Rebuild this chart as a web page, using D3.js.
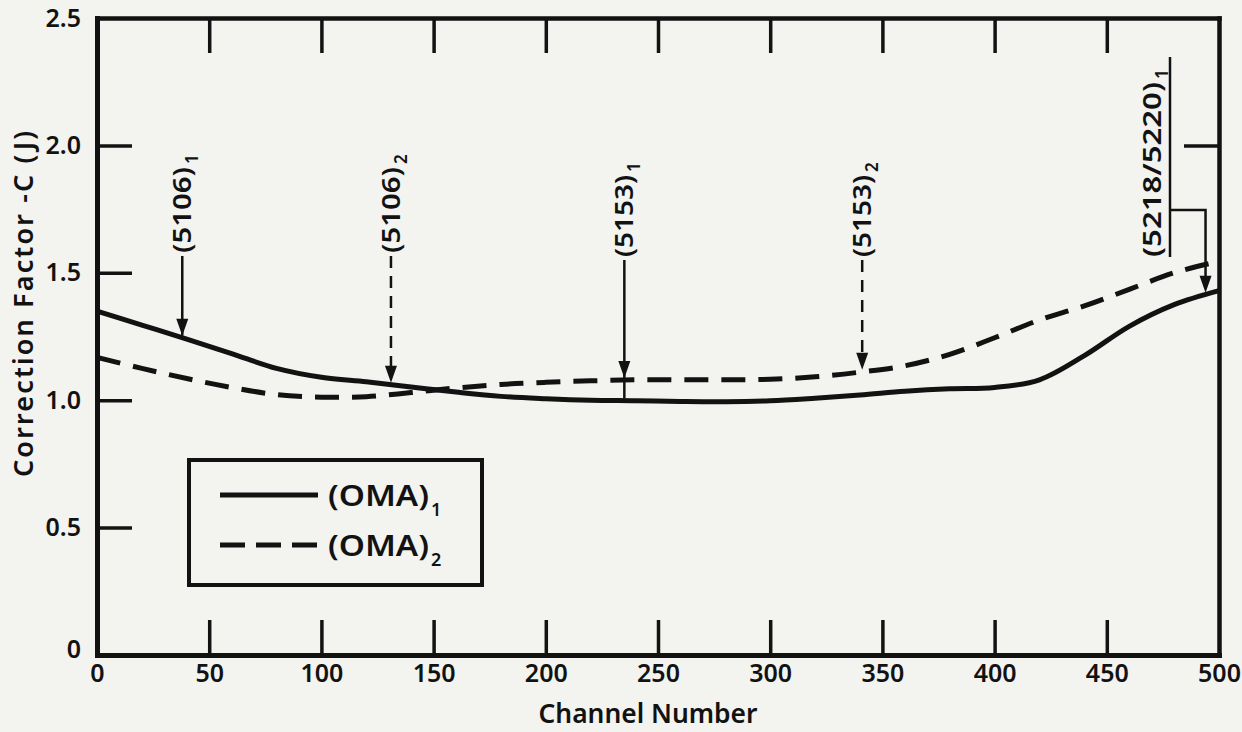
<!DOCTYPE html>
<html><head><meta charset="utf-8">
<script src="https://cdn.jsdelivr.net/npm/d3@7"></script>
<style>
html,body{margin:0;padding:0;background:#f3f3f0;}
svg{display:block;font-family:"Noto Sans",sans-serif;}
</style>
</head><body>
<svg id="chart" width="1242" height="732"></svg>
<script>
// ---------------- DATA ----------------
const channels = [0,20,40,60,80,100,120,140,160,180,200,220,240,260,280,300,320,340,360,380,400,420,440,460,480,500];
const oma1 = [1.35,1.295,1.24,1.183,1.125,1.09,1.072,1.052,1.032,1.015,1.006,1.0,0.998,0.995,0.994,0.998,1.008,1.02,1.035,1.045,1.05,1.08,1.175,1.29,1.375,1.43];
const oma2 = [1.168,1.125,1.085,1.05,1.022,1.012,1.014,1.03,1.048,1.062,1.07,1.076,1.08,1.08,1.08,1.082,1.092,1.11,1.135,1.18,1.245,1.315,1.37,1.435,1.5,1.545];
const xTickValues = [0,50,100,150,200,250,300,350,400,450,500];
const yTickValues = [0,0.5,1.0,1.5,2.0,2.5];
const seriesNames = ["(OMA)", "(OMA)"];
const seriesSubs = ["1", "2"];
const annLabels = ["(5106)","(5106)","(5153)","(5153)","(5218/5220)"];
const annSubs = ["1","2","1","2","1"];
const annChannels = [38, 131, 235, 341, 494];
const annDashed = [false, true, false, true, false];
const annTipOn = ["oma1","oma1","oma2","oma2","oma1"];
const annLineTo = ["oma1","oma1","oma1","oma2","oma1"];
const xTitle = "Channel Number";
const yTitle = "Correction Factor -C (J)";

// ---------------- LAYOUT ----------------
const INK = "#121212";
const FW = 600;
const svg = d3.select("#chart");
svg.append("rect").attr("width",1242).attr("height",732).attr("fill","#f3f3f0");

const x = d3.scaleLinear().domain([0,500]).range([97,1219]);
const y = d3.scaleLinear().domain([0,2.5]).range([655,18]);

const series = {oma1: oma1, oma2: oma2};
function valueAt(arr, ch){
  for(let i=0;i<channels.length-1;i++){
    if(ch>=channels[i] && ch<=channels[i+1]){
      const t=(ch-channels[i])/(channels[i+1]-channels[i]);
      return arr[i]+(arr[i+1]-arr[i])*t;
    }
  }
  return arr[arr.length-1];
}

function styleAxis(g, domainW){
  g.select(".domain").attr("stroke",INK).attr("stroke-width",domainW).attr("stroke-linecap","square");
  g.selectAll(".tick line").attr("stroke",INK).attr("stroke-width",3.5);
  g.selectAll(".tick text").attr("fill",INK).attr("font-size",25).attr("font-weight",FW)
    .attr("font-family","Noto Sans, sans-serif");
}

// bottom axis
const gx = svg.append("g").attr("transform",`translate(0,${y(0)})`)
  .call(d3.axisBottom(x).tickValues(xTickValues).tickSize(-35).tickSizeOuter(0).tickPadding(9)
    .tickFormat(d3.format("d")));
styleAxis(gx,5);
gx.selectAll(".tick").filter(d=>d===0||d===500).select("line").remove();

// left axis
const gy = svg.append("g").attr("transform",`translate(${x(0)},0)`)
  .call(d3.axisLeft(y).tickValues(yTickValues).tickSize(-35).tickSizeOuter(0).tickPadding(16)
    .tickFormat(d=> d===0 ? "0" : d3.format(".1f")(d)));
styleAxis(gy,5);
gy.selectAll(".tick").filter(d=>d===0||d===2.5).select("line").remove();
gy.selectAll(".tick").filter(d=>d===0).select("text").attr("dy","0.1em");

// top axis
const gt = svg.append("g").attr("transform",`translate(0,${y(2.5)})`)
  .call(d3.axisTop(x).tickValues(xTickValues.slice(1,-1)).tickSize(-35).tickSizeOuter(0).tickFormat(""));
styleAxis(gt,4.5);

// right axis
const gr = svg.append("g").attr("transform",`translate(${x(500)},0)`)
  .call(d3.axisRight(y).tickValues([2.0]).tickSize(-35).tickSizeOuter(0).tickFormat(""));
styleAxis(gr,4.5);

// axis titles
svg.append("text").attr("x",648).attr("y",723).attr("text-anchor","middle")
  .attr("font-size",27).attr("font-weight",FW).attr("fill",INK)
  .attr("textLength",219).attr("lengthAdjust","spacingAndGlyphs").text(xTitle);
svg.append("text").attr("transform","translate(33,304) rotate(-90)").attr("text-anchor","middle")
  .attr("font-size",27).attr("font-weight",FW).attr("fill",INK)
  .attr("textLength",346).attr("lengthAdjust","spacing").text(yTitle);

// curves
const line = d3.line().x((d,i)=>x(channels[i])).y(d=>y(d)).curve(d3.curveCatmullRom.alpha(0.5));
svg.append("path").attr("d",line(oma1)).attr("fill","none").attr("stroke",INK).attr("stroke-width",5);
svg.append("path").attr("d",line(oma2)).attr("fill","none").attr("stroke",INK).attr("stroke-width",5)
  .attr("stroke-dasharray","24,13");

// annotations
function arrowHead(cx, tip){
  svg.append("path").attr("d",`M${cx-6},${tip-17} L${cx+6},${tip-17} L${cx},${tip} Z`).attr("fill",INK);
}
function rotLabel(xb, yStart, label, sub, len){
  const g = svg.append("g").attr("transform",`translate(${xb},${yStart}) rotate(-90)`);
  g.append("text").attr("x",0).attr("y",0).attr("font-size",25).attr("font-weight",FW).attr("fill",INK)
    .attr("textLength",len).attr("lengthAdjust","spacingAndGlyphs").text(label);
  g.append("text").attr("x",len+3).attr("y",7).attr("font-size",17).attr("font-weight",FW).attr("fill",INK).text(sub);
}
annLabels.forEach((lab,i)=>{
  const ch = annChannels[i];
  const tipY = y(valueAt(series[annTipOn[i]], ch)) - 2;
  const endY = y(valueAt(series[annLineTo[i]], ch)) - 2;
  if(i<4){
    const cx = x(ch);
    const yStart = i<2 ? 253 : 257;
    const len = i<2 ? 86 : 82;
    rotLabel(cx+9, yStart, lab, annSubs[i], len);
    svg.append("line").attr("x1",cx).attr("x2",cx).attr("y1",yStart+3).attr("y2",Math.max(tipY,endY)-(annDashed[i]?10:0))
      .attr("stroke",INK).attr("stroke-width",2.5)
      .attr("stroke-dasharray",annDashed[i]?"12,8":null);
    arrowHead(cx, tipY);
  } else {
    const cx = x(ch);
    const lx = 1170;
    rotLabel(lx-9, 257, lab, annSubs[i], 175);
    svg.append("path").attr("d",`M${lx},57 L${lx},257 M${lx},210 L${cx},210 L${cx},${tipY-8}`)
      .attr("fill","none").attr("stroke",INK).attr("stroke-width",2.5);
    arrowHead(cx, tipY);
  }
});

// legend
const lg = svg.append("g");
lg.append("rect").attr("x",189).attr("y",460).attr("width",293).attr("height",125)
  .attr("fill","none").attr("stroke",INK).attr("stroke-width",4);
[0,1].forEach(i=>{
  const ly = 495 + i*50;
  lg.append("line").attr("x1",220).attr("x2",318).attr("y1",ly).attr("y2",ly)
    .attr("stroke",INK).attr("stroke-width",5).attr("stroke-dasharray", i===1?"25,11":null);
  lg.append("text").attr("x",328).attr("y",ly+11).attr("font-size",28).attr("font-weight",FW).attr("fill",INK)
    .attr("textLength",101).attr("lengthAdjust","spacingAndGlyphs").text(seriesNames[i]);
  lg.append("text").attr("x",431).attr("y",ly+21).attr("font-size",18).attr("font-weight",FW).attr("fill",INK)
    .text(seriesSubs[i]);
});
</script>
</body></html>
